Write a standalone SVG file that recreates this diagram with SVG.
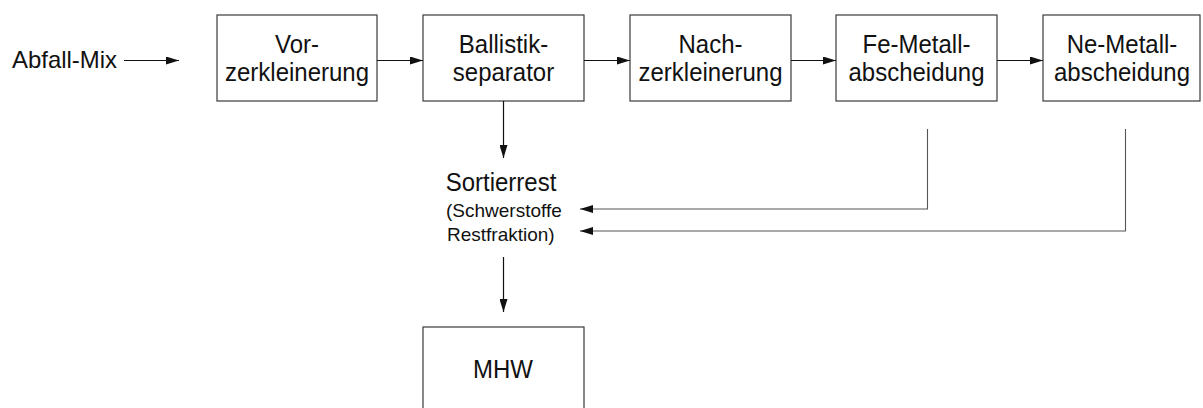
<svg xmlns="http://www.w3.org/2000/svg" width="1203" height="408" viewBox="0 0 1203 408">
  <style>
    .box { fill: #ffffff; stroke: #3a3a3a; stroke-width: 1.2; }
    .lbl { font-family: "Liberation Sans", Arial, sans-serif; font-size: 24px; fill: #111111; text-anchor: middle; }
    .small { font-family: "Liberation Sans", Arial, sans-serif; font-size: 19px; fill: #111111; }
    .flow { fill: none; stroke: #111111; stroke-width: 1.2; }
    .ret { fill: none; stroke: #555555; stroke-width: 1.1; }
  </style>
  <defs>
    <marker id="arrow" viewBox="0 0 13 8" refX="13" refY="4" markerWidth="13" markerHeight="8" markerUnits="userSpaceOnUse" orient="auto">
      <path d="M0,0 L13,4 L0,8 Z" fill="#111111"/>
    </marker>
  </defs>

  <rect width="1203" height="408" fill="#ffffff"/>

  <!-- input label -->
  <g id="input">
    <text class="lbl" x="12" y="68" style="text-anchor:start" textLength="105" lengthAdjust="spacingAndGlyphs">Abfall-Mix</text>
  </g>

  <!-- process chain; labels are slightly tall, hence the vertical scale -->
  <g id="vorzerkleinerung">
    <rect class="box" x="217" y="15" width="160" height="86"/>
    <text class="lbl" transform="translate(297,52.5) scale(1,1.08)">Vor-</text>
    <text class="lbl" transform="translate(297,81) scale(1,1.08)">zerkleinerung</text>
  </g>
  <g id="ballistikseparator">
    <rect class="box" x="423" y="15" width="161" height="86"/>
    <text class="lbl" transform="translate(503.5,52.5) scale(1,1.08)">Ballistik-</text>
    <text class="lbl" transform="translate(503.5,81) scale(1,1.08)">separator</text>
  </g>
  <g id="nachzerkleinerung">
    <rect class="box" x="630" y="15" width="161" height="86"/>
    <text class="lbl" transform="translate(710.5,52.5) scale(1,1.08)">Nach-</text>
    <text class="lbl" transform="translate(710.5,81) scale(1,1.08)">zerkleinerung</text>
  </g>
  <g id="fe-abscheidung">
    <rect class="box" x="836" y="15" width="161" height="86"/>
    <text class="lbl" transform="translate(916.5,52.5) scale(1,1.08)">Fe-Metall-</text>
    <text class="lbl" transform="translate(916.5,81) scale(1,1.08)">abscheidung</text>
  </g>
  <g id="ne-abscheidung">
    <rect class="box" x="1043" y="15" width="157" height="86"/>
    <text class="lbl" transform="translate(1122,52.5) scale(1,1.08)">Ne-Metall-</text>
    <text class="lbl" transform="translate(1122,81) scale(1,1.08)">abscheidung</text>
  </g>

  <!-- residue label -->
  <g id="sortierrest">
    <text class="lbl" transform="translate(501,191) scale(1,1.08)">Sortierrest</text>
    <text class="small" x="446" y="217">(Schwerstoffe</text>
    <text class="small" x="447" y="241">Restfraktion)</text>
  </g>

  <g id="mhw">
    <rect class="box" x="423" y="327" width="161" height="90"/>
    <text class="lbl" transform="translate(503,378) scale(1,1.08)">MHW</text>
  </g>

  <!-- connectors -->
  <g id="connectors">
    <line class="flow" x1="124" y1="60.5" x2="179" y2="60.5" marker-end="url(#arrow)"/>
    <line class="flow" x1="377" y1="60.5" x2="423" y2="60.5" marker-end="url(#arrow)"/>
    <line class="flow" x1="584" y1="60.5" x2="630" y2="60.5" marker-end="url(#arrow)"/>
    <line class="flow" x1="791" y1="60.5" x2="836" y2="60.5" marker-end="url(#arrow)"/>
    <line class="flow" x1="997" y1="60.5" x2="1043" y2="60.5" marker-end="url(#arrow)"/>
    <line class="flow" x1="503.5" y1="101" x2="503.5" y2="158" marker-end="url(#arrow)"/>
    <line class="flow" x1="503.5" y1="257" x2="503.5" y2="312" marker-end="url(#arrow)"/>
    <polyline class="ret" points="927.5,129 927.5,209 580,209" marker-end="url(#arrow)"/>
    <polyline class="ret" points="1125.5,129 1125.5,231 580,231" marker-end="url(#arrow)"/>
  </g>
</svg>
